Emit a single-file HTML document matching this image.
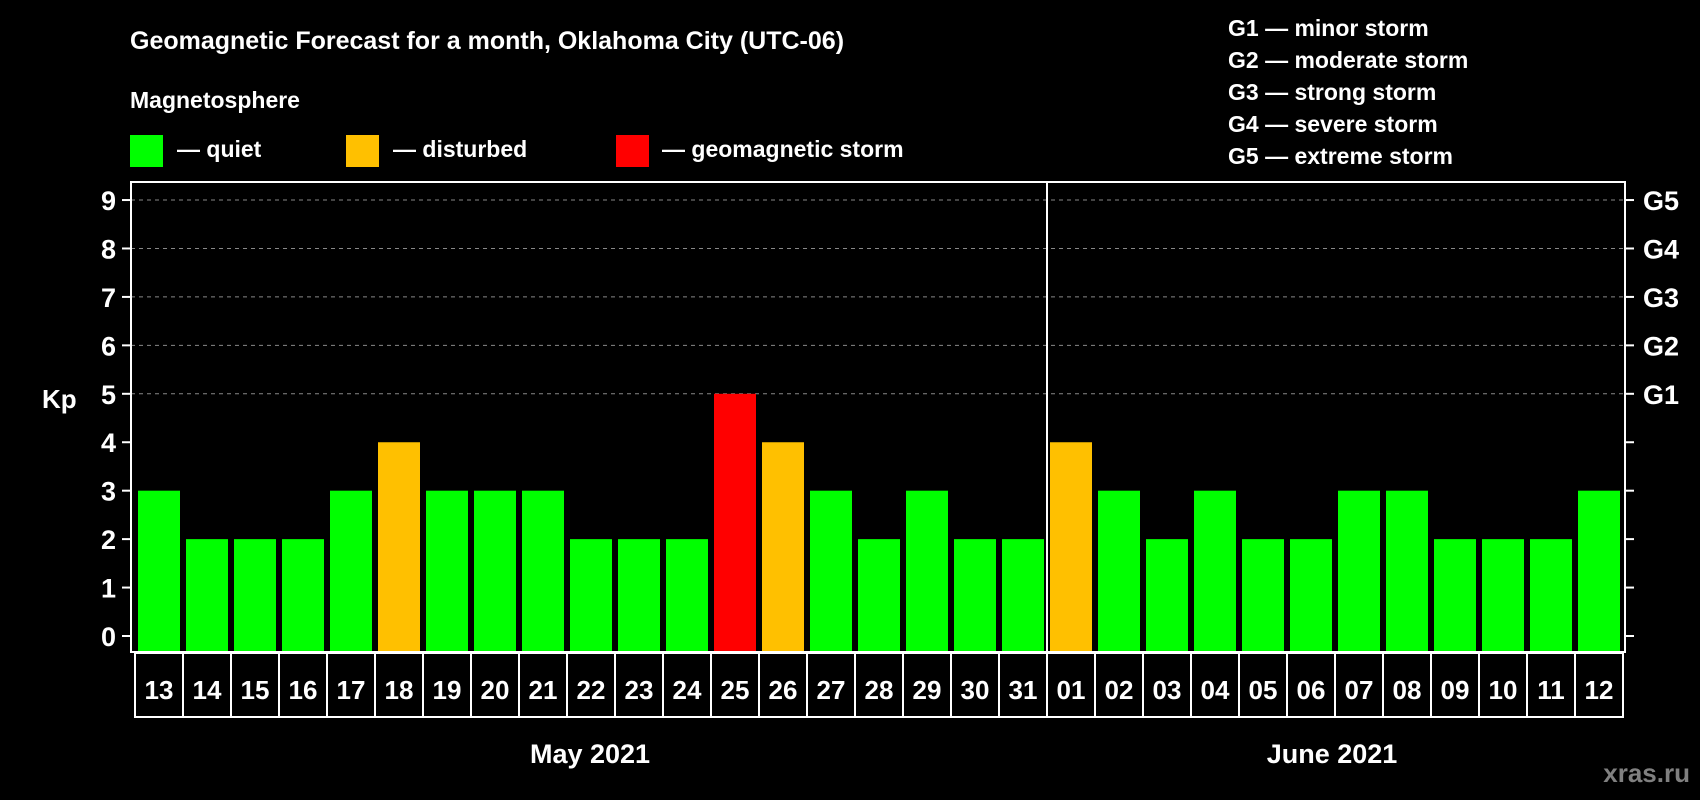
<!DOCTYPE html>
<html><head><meta charset="utf-8"><style>
body{margin:0;background:#000;}
svg{display:block;font-family:"Liberation Sans",Arial,sans-serif;font-weight:bold;}
</style></head><body>
<svg id="c" width="1700" height="800" viewBox="0 0 1700 800">
<rect width="1700" height="800" fill="#000"/>
<text x="130" y="49" fill="#fff" font-size="25">Geomagnetic Forecast for a month, Oklahoma City (UTC-06)</text>
<text x="130" y="108" fill="#fff" font-size="23">Magnetosphere</text>
<g><rect x="130" y="135" width="33" height="32" fill="#00ff00"/><text x="177" y="157" fill="#fff" font-size="23">— quiet</text></g>
<g><rect x="346" y="135" width="33" height="32" fill="#ffc000"/><text x="393" y="157" fill="#fff" font-size="23">— disturbed</text></g>
<g><rect x="616" y="135" width="33" height="32" fill="#ff0000"/><text x="662" y="157" fill="#fff" font-size="23">— geomagnetic storm</text></g>
<g fill="#fff" font-size="23">
<text x="1228" y="36">G1 — minor storm</text>
<text x="1228" y="68">G2 — moderate storm</text>
<text x="1228" y="100">G3 — strong storm</text>
<text x="1228" y="132">G4 — severe storm</text>
<text x="1228" y="164">G5 — extreme storm</text>
</g>
<text x="42" y="408" fill="#fff" font-size="26">Kp</text>
<g id="grid"></g><g id="bars"></g><g id="axes"></g>
<text x="590" y="763" fill="#fff" font-size="27" text-anchor="middle">May 2021</text>
<text x="1332" y="763" fill="#fff" font-size="27" text-anchor="middle">June 2021</text>
<text x="1690" y="782" fill="#808080" font-size="26" text-anchor="end">xras.ru</text>
</svg>
<script>
const days=["13","14","15","16","17","18","19","20","21","22","23","24","25","26","27","28","29","30","31","01","02","03","04","05","06","07","08","09","10","11","12"];
const kp=[3,2,2,2,3,4,3,3,3,2,2,2,5,4,3,2,3,2,2,4,3,2,3,2,2,3,3,2,2,2,3];
const yTicks=[0,1,2,3,4,5,6,7,8,9];
const gLabels=["G1","G2","G3","G4","G5"];
const gLevels=[5,6,7,8,9];
const NS="http://www.w3.org/2000/svg";
const L=131,R=1625,T=182,B=652,x0=135,step=48;
const y=v=>636-v*48.44;
const xb=i=>x0+i*step;
function mk(t,a,p){const e=document.createElementNS(NS,t);for(const k in a)e.setAttribute(k,a[k]);p.appendChild(e);return e;}
const grid=document.getElementById('grid'),bars=document.getElementById('bars'),axes=document.getElementById('axes');
yTicks.forEach(v=>{
  if(v>=5){const g=mk('line',{x1:L,x2:R,y1:y(v),y2:y(v),stroke:'#888','stroke-dasharray':'4 4','stroke-width':1},grid);
  
  }
  const t=mk('line',{x1:122,x2:L,y1:y(v),y2:y(v),stroke:'#fff','stroke-width':2},axes);
  
  
  const rt=mk('line',{x1:R,x2:1634,y1:y(v),y2:y(v),stroke:'#fff','stroke-width':2},axes);
  
  
  const lb=mk('text',{x:116,y:y(v)+10,fill:'#fff','font-size':27,'text-anchor':'end'},axes);
  lb.textContent=v;
  
  
});
gLevels.forEach((v,i)=>{
  const lb=mk('text',{x:1643,y:y(v)+10,fill:'#fff','font-size':27},axes);
  lb.textContent=gLabels[i];
  
  
});
kp.forEach((v,i)=>{
  const col=v>=5?'#ff0000':(v>=4?'#ffc000':'#00ff00');
  const b=mk('rect',{x:xb(i)+3,y:y(v),width:42,height:B-y(v),fill:col},bars);
  
  
});
const fr=mk('rect',{x:L,y:T,width:R-L,height:B-T,fill:'none',stroke:'#fff','stroke-width':2},axes);


const div=days.indexOf("01");
const dv=mk('line',{x1:xb(div),x2:xb(div),y1:T,y2:B,stroke:'#fff','stroke-width':2},axes);


days.forEach((d,i)=>{
  const r=mk('rect',{x:xb(i),y:653,width:step,height:64,fill:'none',stroke:'#fff','stroke-width':2},axes);
  
  
  const t=mk('text',{x:xb(i)+step/2,y:699,fill:'#fff','font-size':26,'text-anchor':'middle'},axes);
  t.textContent=d;
  
  
});
</script>
</body></html>
